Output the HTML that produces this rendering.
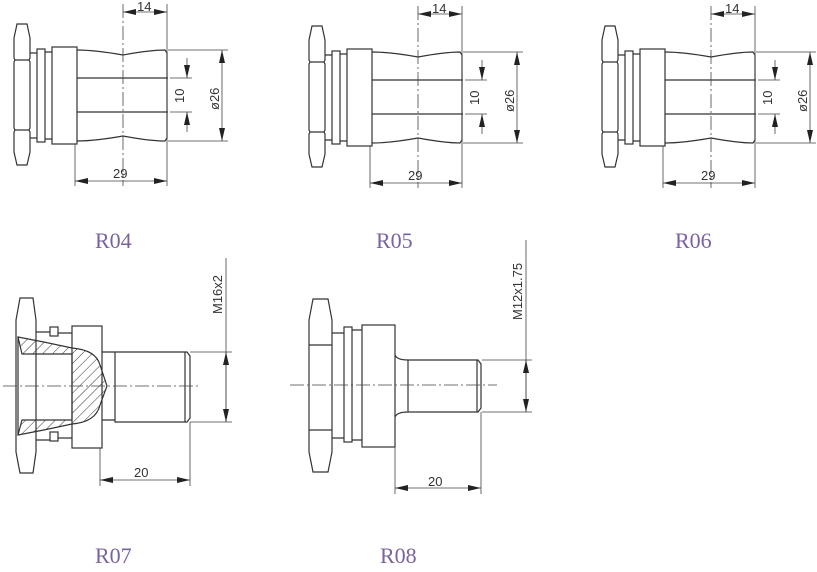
<!DOCTYPE html>
<html><head><meta charset="utf-8"><style>
html,body{margin:0;padding:0;background:#fff;width:817px;height:572px;overflow:hidden}
svg{display:block}
.l{fill:none;stroke:#333;stroke-width:1.2}
.t{stroke:#444;stroke-width:0.8;fill:none}
.c{stroke:#444;stroke-width:0.8;fill:none;stroke-dasharray:14 3 2 3}
.d{font-family:"Liberation Sans",sans-serif;font-size:13px;fill:#333}
.lab{font-family:"Liberation Serif",serif;font-size:22px;fill:#7a62a0}
</style></head><body>
<svg width="817" height="572" viewBox="0 0 817 572" xmlns="http://www.w3.org/2000/svg">
<defs>
<marker id="a" viewBox="0 0 13 6" refX="13" refY="3" markerWidth="13" markerHeight="6" markerUnits="userSpaceOnUse" orient="auto-start-reverse"><path d="M0,0L13,3L0,6z" fill="#222"/></marker>
<pattern id="h" width="7" height="7" patternUnits="userSpaceOnUse" patternTransform="rotate(45)"><line x1="0" y1="0" x2="0" y2="7" stroke="#333" stroke-width="1"/></pattern>
<g id="top">
 <path class="l" d="M17,24H27L30,38V58L29,60L30,62V128L29,130L30,132V152L27,165H17L14,152V132L15,130L14,128V62L15,60L14,58V38Z M15,60H29 M15,130H29"/>
 <path class="l" d="M30,53H37 M30,138H37"/>
 <rect class="l" x="37" y="49" width="8" height="93"/>
 <path class="l" d="M45,52H52 M45,139H52"/>
 <rect class="l" x="52" y="47" width="25" height="97"/>
 <path class="l" d="M77,50 Q95,50 123,55 Q150,50 165,50 L167,53 V138 L165,141 Q150,141 123,136 Q95,141 77,141"/>
 <path class="l" d="M77,78H168 M77,112H168"/>
 <path class="c" d="M123,4V186"/>
 <path class="t" d="M167,4V186 M75,144V186 M168,50H228 M168,141H228 M170,78H192 M170,112H192"/>
 <line class="t" x1="123" y1="12" x2="167" y2="12" marker-start="url(#a)" marker-end="url(#a)"/>
 <line class="t" x1="75" y1="181" x2="167" y2="181" marker-start="url(#a)" marker-end="url(#a)"/>
 <line class="t" x1="187" y1="58" x2="187" y2="78" marker-end="url(#a)"/>
 <line class="t" x1="187" y1="132" x2="187" y2="112" marker-end="url(#a)"/>
 <line class="t" x1="222" y1="50" x2="222" y2="141" marker-start="url(#a)" marker-end="url(#a)"/>
 <text class="d" x="137" y="11">14</text>
 <text class="d" x="113" y="178">29</text>
 <text class="d" transform="translate(184,103) rotate(-90)">10</text>
 <text class="d" transform="translate(219,110) rotate(-90)">ø26</text>
</g>
</defs>
<use href="#top"/>
<use href="#top" x="295" y="2"/>
<use href="#top" x="588" y="2"/>
<text class="lab" x="95" y="248">R04</text>
<text class="lab" x="376" y="248">R05</text>
<text class="lab" x="675" y="248">R06</text>

<!-- R07 -->
<path class="l" d="M20,298H33L36,320V452L33,473H20L16,452V320Z"/>
<path class="l" d="M36,332H50 M36,440H50"/>
<rect class="l" x="50" y="327" width="8" height="9"/>
<rect class="l" x="50" y="432" width="8" height="9"/>
<path class="l" d="M58,333H72 M58,438H72"/>
<rect class="l" x="72" y="326" width="30" height="122"/>
<path d="M18,337 Q45,342 72,348 Q96,350 100,365 L107,386 L100,405 Q96,422 72,424 Q45,430 18,435 L22,420 H72 V354 H22 Z" fill="url(#h)" stroke="#333" stroke-width="1.2"/>
<path class="l" d="M18,337V435"/>
<path class="l" d="M102,352H115 M102,420H115"/>
<path class="l" d="M115,352H187L190,356V418L187,422H115Z M185,352V422"/>
<path class="c" d="M3,386H200"/>
<path class="t" d="M190,352H232 M190,422H232 M226,258V422 M100,448V486 M190,422V486"/>
<line class="t" x1="226" y1="385" x2="226" y2="352" marker-end="url(#a)"/>
<line class="t" x1="226" y1="385" x2="226" y2="422" marker-end="url(#a)"/>
<line class="t" x1="100" y1="480" x2="190" y2="480" marker-start="url(#a)" marker-end="url(#a)"/>
<text class="d" x="134" y="477">20</text>
<text class="d" transform="translate(222,314) rotate(-90)">M16x2</text>
<text class="lab" x="95" y="563">R07</text>

<!-- R08 -->
<path class="l" d="M313,299H328L332,320V452L328,472H313L309,452V320Z M309,345H332 M309,430H332"/>
<path class="l" d="M332,333H344 M332,438H344"/>
<rect class="l" x="344" y="327" width="8" height="115"/>
<path class="l" d="M352,330H362 M352,440H362"/>
<rect class="l" x="362" y="325" width="33" height="122"/>
<path class="l" d="M395,355 Q397,360 408,360 H478 L481,364 V408 L478,412 H408 Q397,412 395,417 M408,360V412 M477,360V412"/>
<path class="c" d="M290,385H497"/>
<path class="t" d="M482,360H532 M482,412H532 M526,240V412 M395,447V494 M481,412V494"/>
<line class="t" x1="526" y1="386" x2="526" y2="360" marker-end="url(#a)"/>
<line class="t" x1="526" y1="386" x2="526" y2="412" marker-end="url(#a)"/>
<line class="t" x1="395" y1="488" x2="481" y2="488" marker-start="url(#a)" marker-end="url(#a)"/>
<text class="d" x="428" y="486">20</text>
<text class="d" transform="translate(522,320) rotate(-90)">M12x1.75</text>
<text class="lab" x="380" y="563">R08</text>
</svg>
</body></html>
